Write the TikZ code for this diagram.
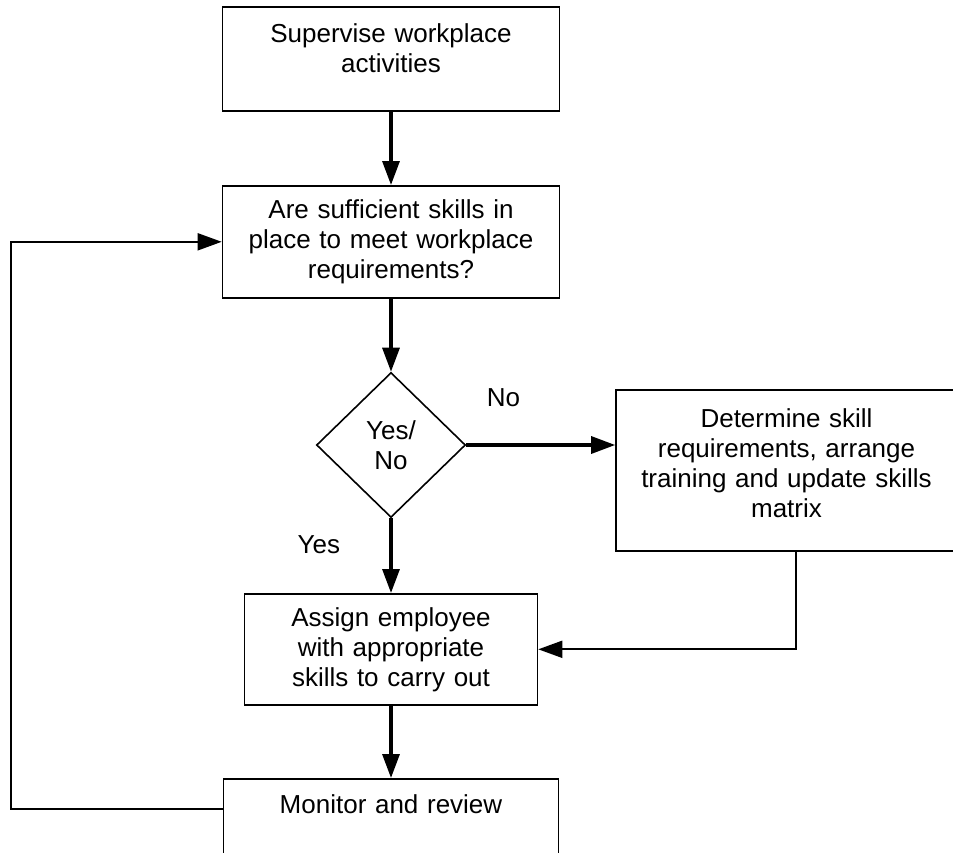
\documentclass[tikz,border=0pt]{standalone}
\usepackage{fontspec}
\setmainfont{Liberation Sans}
\usetikzlibrary{shapes.geometric,arrows.meta}

\begin{document}
\begin{tikzpicture}[
        x=1pt, y=-1pt,
        >={Triangle[length=24pt,width=17pt]},
        font=\fontsize{26}{30}\selectfont,
        block/.style={rectangle, draw, line width=1.6pt, align=center, anchor=north},
        decision/.style={diamond, draw, line width=1.6pt, align=center, inner sep=0pt},
        flow/.style={->, line width=3.2pt},
        back/.style={->, line width=1.8pt}
    ]
    \useasboundingbox (0,0) rectangle (953,852);
    % Blocks
    \node [block, minimum width=337pt, minimum height=104pt, text width=300pt, text depth=51pt] (supervise) at (391,6) {Supervise workplace\\activities};
    \node [block, minimum width=337pt, minimum height=112pt, text width=300pt] (question) at (391,185) {Are sufficient skills in\\place to meet workplace\\requirements?};
    \node [decision, minimum width=149pt, minimum height=145pt] (decide) at (391,445) {Yes/\\No};
    \node [block, minimum width=341pt, minimum height=161pt, text width=310pt, text depth=104pt] (determine) at (786.5,389) {Determine skill\\requirements, arrange\\training and update skills\\matrix};
    \node [block, minimum width=293pt, minimum height=111pt, text width=270pt] (assign) at (391,593) {Assign employee\\with appropriate\\skills to carry out};
    \node [block, minimum width=335pt, minimum height=100pt, text width=300pt, text depth=49pt] (review) at (391,778) {Monitor and review};

    % Connections
    \draw [flow] (supervise) -- (question);
    \draw [flow] (question) -- (decide);
    \draw [flow] (decide.east) -- node[pos=0.25, above=33pt] (no) {No} (decide.east -| determine.west);
    \draw [flow] (decide) -- node[pos=0.35, left=46pt] (yes) {Yes} (assign);
    \draw [flow] (assign) -- (review);
    \draw [back] ([xshift=9.5pt]determine.south) |- (assign.east);
    \draw [back] ([yshift=20pt]review.west) -- ++(-212,0) |- (question.west);
\end{tikzpicture}
\end{document}
